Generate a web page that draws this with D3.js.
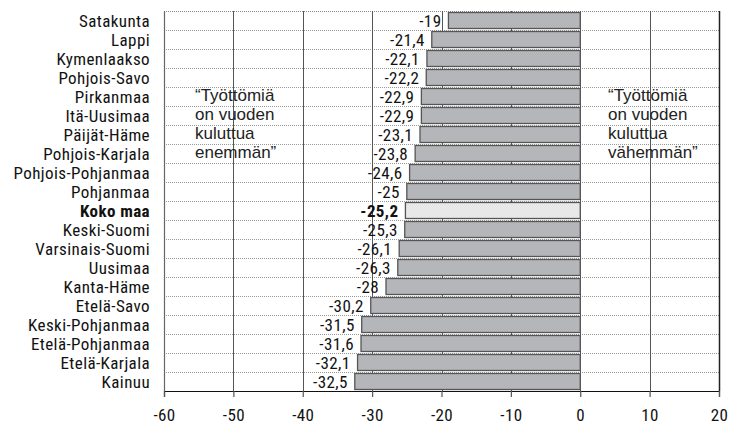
<!DOCTYPE html>
<html><head><meta charset="utf-8">
<script src="https://cdn.jsdelivr.net/npm/d3@7"></script>
<style>
body{margin:0;background:#fff;}
</style></head>
<body><svg id="c" width="730" height="426"></svg>
<script>
const categories = ["Satakunta","Lappi","Kymenlaakso","Pohjois-Savo","Pirkanmaa","Itä-Uusimaa","Päijät-Häme","Pohjois-Karjala","Pohjois-Pohjanmaa","Pohjanmaa","Koko maa","Keski-Suomi","Varsinais-Suomi","Uusimaa","Kanta-Häme","Etelä-Savo","Keski-Pohjanmaa","Etelä-Pohjanmaa","Etelä-Karjala","Kainuu"];
const values = [-19,-21.4,-22.1,-22.2,-22.9,-22.9,-23.1,-23.8,-24.6,-25,-25.2,-25.3,-26.1,-26.3,-28,-30.2,-31.5,-31.6,-32.1,-32.5];
const highlight = "Koko maa";
const xTicks = [-60,-50,-40,-30,-20,-10,0,10,20];
const annLeft = ["“Työttömiä","on vuoden","kuluttua","enemmän”"];
const annRight = ["“Työttömiä","on vuoden","kuluttua","vähemmän”"];

const COND = "'Roboto Condensed','DejaVu Sans Condensed',sans-serif";
const REG = "'Liberation Sans',Arial,sans-serif";
const FS = 17;
const LS = "0.4px";

const svg = d3.select("#c");
const L=164, R=719, T=11, B=391;
const x = d3.scaleLinear().domain([-60,20]).range([L,R]);
const rowH = (B-T)/categories.length;
const y = d3.scaleBand().domain(categories).range([T,B]);

// row dotted lines
svg.append("g").selectAll("line").data(categories.slice(1)).join("line")
  .attr("x1",L).attr("x2",R)
  .attr("y1",d=>Math.round(y(d))+0.5).attr("y2",d=>Math.round(y(d))+0.5)
  .attr("stroke","#999").attr("stroke-width",1).attr("stroke-dasharray","1,1");
svg.append("line").attr("x1",L).attr("x2",R).attr("y1",T+0.5).attr("y2",T+0.5)
  .attr("stroke","#888").attr("stroke-dasharray","1,1");

// vertical gridlines
svg.append("g").selectAll("line").data(xTicks.filter(t=>t>-60)).join("line")
  .attr("x1",d=>Math.round(x(d))+0.5).attr("x2",d=>Math.round(x(d))+0.5)
  .attr("y1",T).attr("y2",B)
  .attr("stroke",d=>d===20?"#222":"#555").attr("stroke-width",d=>d===20?1.5:1);
svg.append("line").attr("x1",L+0.5).attr("x2",L+0.5).attr("y1",T).attr("y2",B)
  .attr("stroke","#666").attr("stroke-width",1.2);

// annotations
const annG = svg.append("g").style("font-family",REG).attr("font-size",17).attr("fill","#222");
annLeft.forEach((t,i)=>annG.append("text").attr("x",195).attr("y",101+i*19).text(t));
annRight.forEach((t,i)=>annG.append("text").attr("x",608).attr("y",101+i*19).text(t));

// bars
svg.append("g").selectAll("rect").data(values).join("rect")
  .attr("x",d=>x(d)).attr("width",d=>x(0)-x(d))
  .attr("y",(d,i)=>y(categories[i])+1.5).attr("height",rowH-3)
  .attr("fill",(d,i)=>categories[i]===highlight?"#e8e8e8":"#b5b6b9")
  .attr("stroke","#555").attr("stroke-width",1.3);

// value labels
svg.append("g").style("font-family",COND).style("letter-spacing",LS).selectAll("text").data(values).join("text")
  .attr("x",d=>x(d)-7).attr("y",(d,i)=>y(categories[i])+rowH/2+6)
  .attr("text-anchor","end").attr("font-size",FS).attr("fill","#111")
  .attr("font-weight",(d,i)=>categories[i]===highlight?"bold":"normal")
  .text(d=>String(d).replace(".",","));

// category labels
svg.append("g").style("font-family",COND).style("letter-spacing",LS).selectAll("text").data(categories).join("text")
  .attr("x",150).attr("y",d=>y(d)+rowH/2+6)
  .attr("text-anchor","end").attr("font-size",FS).attr("fill","#111")
  .attr("font-weight",d=>d===highlight?"bold":"normal")
  .text(d=>d);

// x axis
const ax = svg.append("g").attr("transform",`translate(0,${B})`)
  .call(d3.axisBottom(x).tickValues(xTicks).tickSize(6).tickPadding(12).tickFormat(d=>d));
ax.select(".domain").attr("stroke","#111").attr("stroke-width",1.2);
ax.selectAll(".tick line").attr("stroke","#555").attr("stroke-width",1.2);
ax.selectAll(".tick text").attr("font-size",FS).attr("fill","#111").style("font-family",COND).style("letter-spacing",LS);
</script></body></html>
